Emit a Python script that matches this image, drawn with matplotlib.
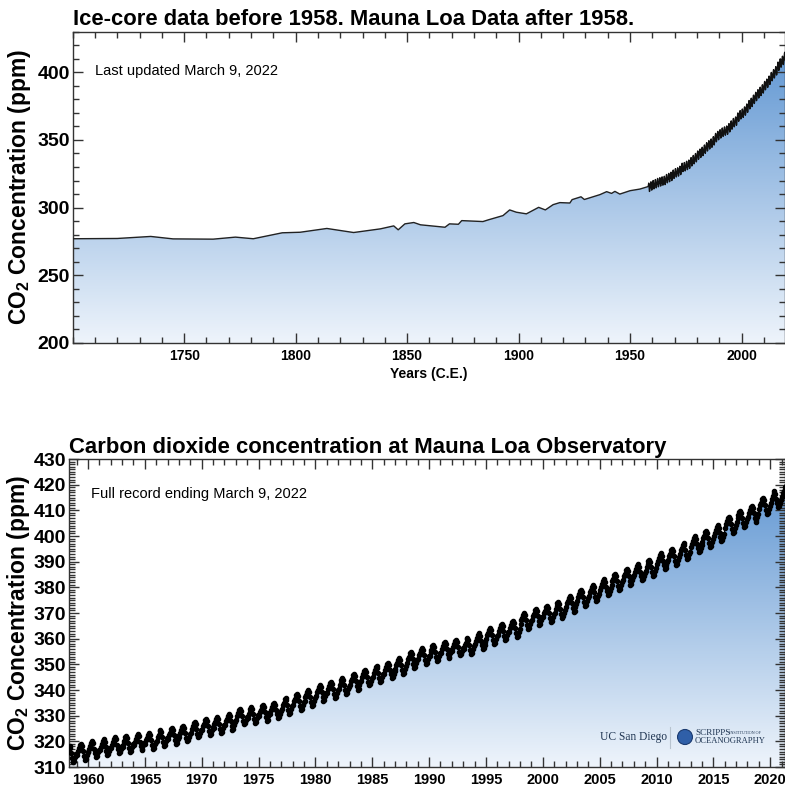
import numpy as np
import matplotlib
matplotlib.use('Agg')
import matplotlib.pyplot as plt
from matplotlib.colors import LinearSegmentedColormap
from matplotlib.ticker import MultipleLocator, FixedLocator
from matplotlib.patches import Circle
from matplotlib.lines import Line2D

plt.rcParams['font.family'] = ['Liberation Sans', 'DejaVu Sans']
plt.rcParams['mathtext.fontset'] = 'custom'
plt.rcParams['mathtext.rm'] = 'Liberation Sans:bold'
plt.rcParams['mathtext.bf'] = 'Liberation Sans:bold'

# ---------------- data ----------------
ice_years = [1700, 1720, 1735, 1745, 1763, 1773, 1781, 1794, 1802, 1814, 1826, 1838,
             1844, 1846, 1849, 1853, 1856, 1867, 1869, 1873, 1874.5, 1884, 1886.5,
             1893, 1896, 1899, 1903.5, 1909, 1912, 1915.5, 1918.5, 1923, 1924, 1928,
             1929.5, 1936.5, 1939.5, 1941.7, 1943.2, 1945.4, 1950, 1954.4, 1958]
ice_ppm = [277.0, 277.2, 278.7, 276.9, 276.7, 278.2, 277.0, 281.4, 281.8, 284.6, 281.6, 284.3,
           286.5, 283.6, 288.0, 289.0, 287.3, 285.5, 288.0, 287.7, 290.4, 289.7, 291.0,
           294.1, 298.3, 296.6, 295.4, 300.2, 298.3, 302.2, 303.7, 303.4, 305.9, 308.0,
           306.0, 309.6, 311.8, 310.5, 312.0, 310.0, 312.5, 313.7, 315.5]

mlo_years = list(range(1958, 2023))
mlo_annual = [315.0, 315.98, 316.91, 317.64, 318.45, 318.99, 319.62, 320.04, 321.37, 322.18,
              323.05, 324.62, 325.68, 326.32, 327.46, 329.68, 330.19, 331.13, 332.03, 333.84,
              335.41, 336.84, 338.76, 340.12, 341.48, 343.15, 344.87, 346.35, 347.61, 349.31,
              351.69, 353.20, 354.45, 355.70, 356.54, 357.21, 358.96, 360.97, 362.74, 363.88,
              366.84, 368.54, 369.71, 371.32, 373.45, 375.98, 377.70, 379.98, 382.09, 384.02,
              385.83, 387.64, 390.10, 391.85, 394.06, 396.74, 398.81, 401.01, 404.41, 406.76,
              408.72, 411.66, 414.24, 416.45, 418.6]
# departure of each calendar month from the annual mean (Jan..Dec)
monthly_offset = [-1.19, 0.31, 1.27, 2.57, 3.11, 2.28, 0.31, -1.56, -3.07, -2.67, -1.23, -0.11]
first_month_1958 = 3   # record starts March 1958
last_month_2022 = 2    # record ends February 2022

top_xticks = [1750, 1800, 1850, 1900, 1950, 2000]

# ---------------- build monthly series ----------------
mlo_t, mlo_v = [], []
for yr, mean in zip(mlo_years, mlo_annual):
    for m in range(12):
        if yr == 1958 and m + 1 < first_month_1958:
            continue
        if yr == 2022 and m + 1 > last_month_2022:
            continue
        mlo_t.append(yr + (m + 0.5) / 12.0)
        mlo_v.append(mean + monthly_offset[m])
mlo_t = np.array(mlo_t)
mlo_v = np.array(mlo_v)

grad_cmap = LinearSegmentedColormap.from_list('g', ['#eef4fb', '#5891d0'])


def grad_fill(ax, x, y, xlim, ylim):
    poly = ax.fill_between(x, y, ylim[0] - 50, facecolor='none', edgecolor='none')
    grad = np.linspace(0, 1, 256).reshape(-1, 1)
    im = ax.imshow(grad, extent=[xlim[0], xlim[1], ylim[0], ylim[1]], origin='lower',
                   aspect='auto', cmap=grad_cmap, zorder=0, interpolation='bicubic')
    im.set_clip_path(poly.get_paths()[0], transform=ax.transData)


def style_axes(ax, xmaj, xmin, ymaj, ymin, xls, yls):
    if isinstance(xmaj, list):
        ax.xaxis.set_major_locator(FixedLocator(xmaj))
    else:
        ax.xaxis.set_major_locator(MultipleLocator(xmaj))
    ax.xaxis.set_minor_locator(MultipleLocator(xmin))
    ax.yaxis.set_major_locator(MultipleLocator(ymaj))
    ax.yaxis.set_minor_locator(MultipleLocator(ymin))
    ax.tick_params(which='both', direction='in', top=True, right=True, width=1.0,
                   color='#333333')
    ax.tick_params(which='major', length=7)
    ax.tick_params(which='minor', length=4)
    ax.tick_params(axis='x', labelsize=xls, pad=4)
    ax.tick_params(axis='y', labelsize=yls, pad=2)
    for lab in ax.get_xticklabels() + ax.get_yticklabels():
        lab.set_fontweight('bold')
    for sp in ax.spines.values():
        sp.set_linewidth(1.0)
        sp.set_color('#333333')


fig = plt.figure(figsize=(7.85, 7.91), dpi=100)

# ---------------- top panel ----------------
ax1 = fig.add_axes([0.0926, 0.5664, 0.9074, 0.3936])
xl1 = (1700, 2019.5)
yl1 = (200, 430)
ice_mask = np.array(ice_years) < 1958.2
x_all = np.concatenate([np.array(ice_years)[ice_mask], mlo_t])
y_all = np.concatenate([np.array(ice_ppm)[ice_mask], mlo_v])
grad_fill(ax1, x_all, y_all, xl1, yl1)
ax1.plot(ice_years, ice_ppm, color='#222222', lw=1.0, zorder=3)
ax1.plot(mlo_t, mlo_v, color='#111111', lw=1.0, zorder=3)
ax1.set_xlim(*xl1)
ax1.set_ylim(*yl1)
style_axes(ax1, top_xticks, 10, 50, 10, 10, 14)
ax1.set_title('Ice-core data before 1958. Mauna Loa Data after 1958.', loc='left',
              fontsize=15.8, fontweight='bold', pad=5)
ax1.set_xlabel('Years (C.E.)', fontsize=10, fontweight='bold', labelpad=3)
ax1.set_ylabel(r'CO$_{\mathbf{2}}$ Concentration (ppm)', fontsize=16.5, fontweight='bold',
               labelpad=3)
ax1.text(0.031, 0.875, 'Last updated March 9, 2022', transform=ax1.transAxes,
         fontsize=10.5, va='center', ha='left')

# ---------------- bottom panel ----------------
ax2 = fig.add_axes([0.0879, 0.0303, 0.9121, 0.3894])
xl2 = (1958.33, 2021.3)
yl2 = (310, 430)
grad_fill(ax2, mlo_t, mlo_v, xl2, yl2)
ax2.plot(mlo_t, mlo_v, '-o', color='black', lw=0.8, ms=3.0, zorder=3)
ax2.set_xlim(*xl2)
ax2.set_ylim(*yl2)
style_axes(ax2, 5, 1, 10, 1, 10.5, 14)
ax2.set_title('Carbon dioxide concentration at Mauna Loa Observatory', loc='left',
              fontsize=15.9, fontweight='bold', pad=4)
ax2.set_ylabel(r'CO$_{\mathbf{2}}$ Concentration (ppm)', fontsize=16.5, fontweight='bold',
               labelpad=1)
ax2.text(0.031, 0.885, 'Full record ending March 9, 2022', transform=ax2.transAxes,
         fontsize=10.5, va='center', ha='left')

# ---------------- logo (as text) ----------------
def fx(px):
    return px / 785.0


def fy(py):
    return 1 - py / 791.0


fig.text(fx(634), fy(737), 'UC San Diego', family='Liberation Serif', fontsize=8.3,
         color='#1f3552', ha='center', va='center')
fig.add_artist(Line2D([fx(670), fx(670)], [fy(727), fy(748)], color='#b8c4d0', lw=0.8))
fig.add_artist(Circle((fx(685), fy(737)), 0.0095, transform=fig.transFigure,
                      facecolor='#2f5fa8', edgecolor='#1a3a70', lw=0.8, zorder=5))
fig.text(fx(695), fy(733), 'SCRIPPS', family='Liberation Serif', fontsize=6.6,
         color='#1f3552', ha='left', va='center')
fig.text(fx(729), fy(733), 'INSTITUTION OF', family='Liberation Serif', fontsize=3.0,
         color='#1f3552', ha='left', va='center')
fig.text(fx(695), fy(741), 'OCEANOGRAPHY', family='Liberation Serif', fontsize=6.1,
         color='#1f3552', ha='left', va='center')

fig.savefig('out.png', dpi=100)
